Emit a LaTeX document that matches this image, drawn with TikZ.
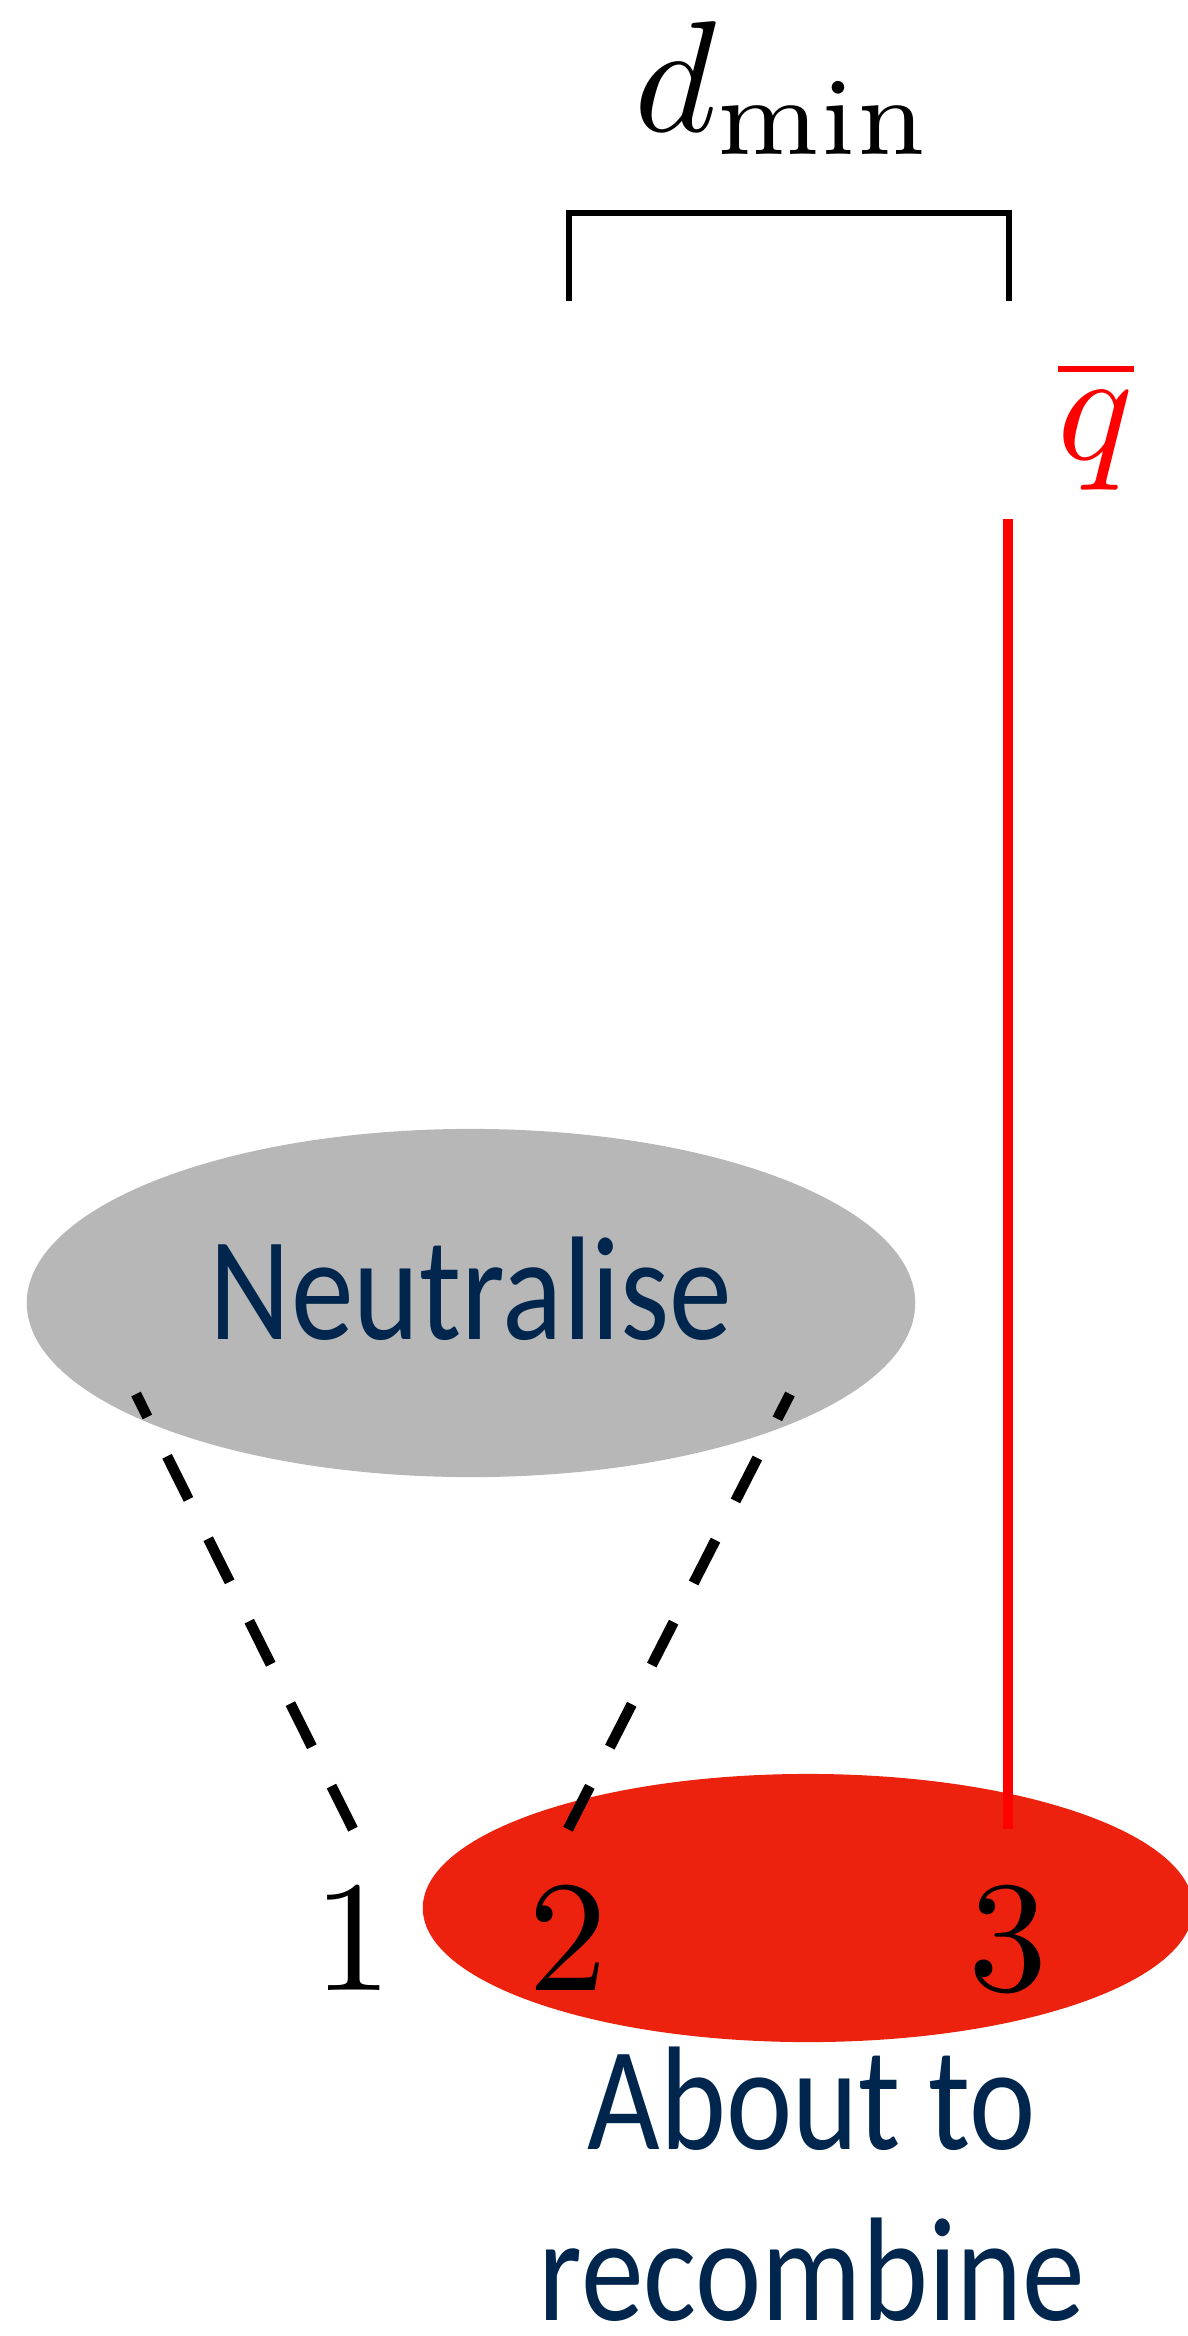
\documentclass[tikz,border=0pt]{standalone}
\usepackage{fontspec}
\setsansfont{Carlito}[FakeStretch=0.85]
\usetikzlibrary{shapes.geometric}
\definecolor{textblue}{RGB}{0,38,77}
\definecolor{blobgrey}{RGB}{183,183,183}
\definecolor{blobred}{RGB}{237,34,14}
\newcommand{\blowup}[1]{\scalebox{4.5}{#1}}

\begin{document}
\begin{tikzpicture}[x = 0.01cm, y = -0.01cm]
\tikzstyle{BlobStyle}=[
shape = ellipse,
inner sep = 0pt,
text = textblue,
text depth = 0.3cm,
font = \sffamily\fontsize{42}{49.2}\selectfont]
\tikzstyle{DigitStyle}=[
inner sep = 0pt,
text height = 1.6cm,
anchor = base]
\tikzstyle{DashStyle}=[line width = 3pt, dash pattern = on 13.7pt off 12.5pt]
\useasboundingbox (0,0) rectangle (1188,2336);
\node[BlobStyle, fill = blobgrey, minimum width = 8.88cm, minimum height = 3.48cm] (neut) at (471,1303) {Neutralise};
\node[BlobStyle, fill = blobred, minimum width = 7.7cm, minimum height = 2.68cm] (recomb) at (808,1908) {};
\node[DigitStyle] (one) at (353,1990) {\blowup{$1$}};
\node[DigitStyle] (two) at (568,1990) {\blowup{$2$}};
\node[DigitStyle] (three) at (1008,1990) {\blowup{$3$}};
\node[text = textblue, font = \sffamily\fontsize{42}{48.5}\selectfont, align = center, anchor = base, inner sep = 0pt, text depth = 0pt] (label) at (812,2320) {About to\\recombine};
\coordinate (nl) at (136,1394);
\coordinate (nr) at (790,1394);
\coordinate (qtop) at (1008,519);
\draw[DashStyle] (one.north) -- (nl);
\draw[DashStyle] (two.north) -- (nr);
\draw[red, line width = 3pt] (three.north) -- (qtop);
\node[DigitStyle, text height = , red] (qbar) at (1096,459) {\blowup{$\overline{q}$}};
\draw[line width = 1.7pt] (569,301) |- (1009,213) -- (1009,301);
\node[DigitStyle, text height = ] (dmin) at (784,131) {\blowup{$d_{\min}$}};
\end{tikzpicture}
\end{document}
